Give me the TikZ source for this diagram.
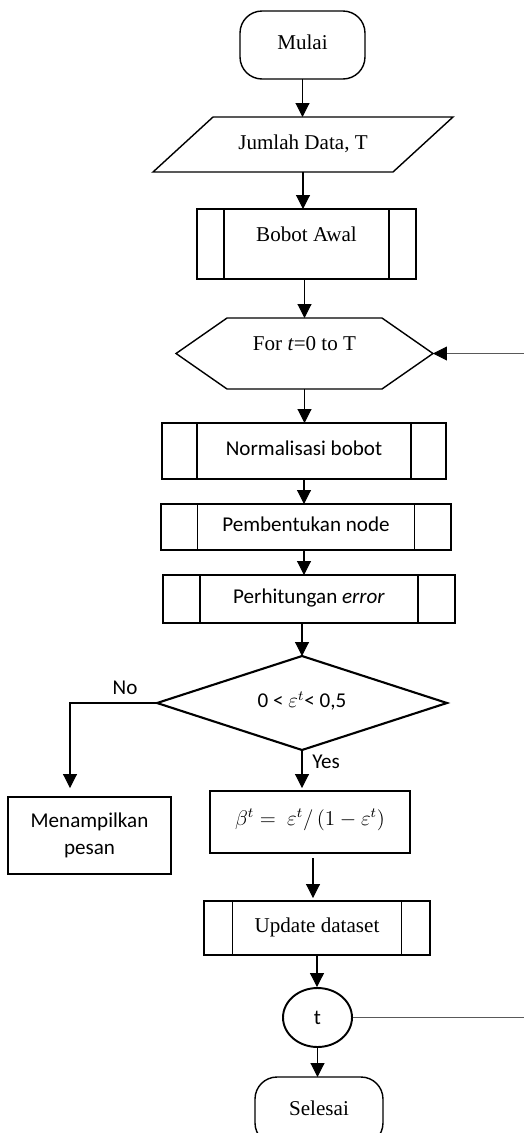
\documentclass[tikz,border=0pt]{standalone}
\usepackage{fontspec}
\setmainfont{Liberation Serif}
\newfontfamily\calibri{Carlito}
\usetikzlibrary{arrows.meta,shapes.geometric}

\tikzset{
  flowbox/.style={line width=0.8pt, inner sep=0pt, outer sep=0pt, text height=8.5pt, text depth=3pt},
  terminal/.style={flowbox, draw, rounded corners=0.44cm, minimum width=2.5cm, minimum height=1.36cm},
  subproc/.style={flowbox, draw, path picture={
    \draw[line width=0.8pt] ([xshift=#1]path picture bounding box.north west) -- ([xshift=#1]path picture bounding box.south west)
      ([xshift=-#1]path picture bounding box.north east) -- ([xshift=-#1]path picture bounding box.south east);}},
  process/.style={draw, line width=1.1pt, inner sep=0pt, outer sep=0pt},
  cal/.style={font=\calibri\fontsize{12}{15}\selectfont},
  arr/.style={line width=0.6pt, -{Triangle[length=0.28cm,width=0.28cm]}},
  returnline/.style={line width=0.5pt, draw=black!65, -{Triangle[length=0.28cm,width=0.28cm,color=black]}}
}

\begin{document}
\begin{tikzpicture}[x=0.02cm, y=-0.02cm, font=\fontsize{12}{15}\selectfont]
    \clip (0,0) rectangle (524,1133);

    \node[terminal] (start) at (302.5,45) {Mulai};
    \node[flowbox, minimum width=6cm, minimum height=1.1cm] (data) at (303,144.5) {Jumlah Data, T};
    \draw[line width=0.8pt] ([xshift=1.2cm]data.north west) -- (data.north east) -- ([xshift=-1.2cm]data.south east) -- (data.south west) -- cycle;
    \node[subproc=0.54cm, minimum width=4.38cm, minimum height=1.4cm, text depth=11.9pt] (bobot) at (306.5,244) {Bobot Awal};
    \node[flowbox, minimum width=5.14cm, minimum height=1.42cm, text depth=11.9pt] (loop) at (304.5,353.5) {For \textit{t}=0 to T};
    \draw[line width=0.8pt] (loop.west) -- ([xshift=1.02cm]loop.north west) -- ([xshift=-1.02cm]loop.north east) -- (loop.east)
      -- ([xshift=-1.02cm]loop.south east) -- ([xshift=1.02cm]loop.south west) -- cycle;
    \node[subproc=0.7cm, cal, minimum width=5.68cm, minimum height=1.12cm] (norm) at (304,451) {Normalisasi bobot};
    \node[subproc=0.73cm, cal, minimum width=5.8cm, minimum height=0.92cm] (tree) at (306,527) {Pembentukan node};
    \node[subproc=0.74cm, cal, minimum width=5.84cm, minimum height=0.96cm] (err) at (309,599) {Perhitungan \textit{error}};
    \node[flowbox, cal, minimum width=5.8cm, minimum height=1.88cm] (cond) at (302,703) {0 < $\varepsilon^t$< 0,5};
    \draw[line width=1.2pt] (cond.north) -- (cond.east) -- (cond.south) -- (cond.west) -- cycle;
    \node[process, cal, align=center, minimum width=3.26cm, minimum height=1.54cm] (msg) at (89.5,835.5) {Menampilkan\\pesan};
    \node[process, minimum width=4cm, minimum height=1.24cm, text height=8.5pt, text depth=5pt] (beta) at (310,822) {$\beta^t =\ \varepsilon^t/\,(1 - \varepsilon^t)$};
    \node[subproc=0.57cm, minimum width=4.52cm, minimum height=1.08cm] (upd) at (317,928) {Update dataset};
    \node[draw, ellipse, cal, line width=1.1pt, minimum width=1.38cm, minimum height=1.18cm, inner sep=0pt] (conn) at (317.5,1017.5) {t};
    \node[terminal, minimum width=2.56cm] (stop) at (319,1111) {Selesai};

    \node[cal] (nolabel) at (125,688) {No};
    \node[cal] (yeslabel) at (326,762) {Yes};

    \coordinate (nobend) at (70,703);
    \coordinate (back) at (540,0);

    \draw[arr] (start.south) -- (start.south |- data.north);
    \draw[arr] (data.south) -- (data.south |- bobot.north);
    \draw[arr] (loop.north |- bobot.south) -- (loop.north);
    \draw[arr] (loop.south) -- (loop.south |- norm.north);
    \draw[arr] (norm.south) -- (norm.south |- tree.north);
    \draw[arr] (norm.south |- tree.south) -- (norm.south |- err.north);
    \draw[arr] (cond.north |- err.south) -- (cond.north);
    \draw[arr, shorten >=0.06cm] (cond.south) -- (cond.south |- beta.north);
    \draw[arr, shorten >=0.18cm] (cond.west) -- (nobend) -- (nobend |- msg.north);
    \draw[arr, shorten <=0.1cm, shorten >=0.06cm] ([xshift=0.06cm]beta.south) -- ([xshift=0.06cm]beta.south |- upd.north);
    \draw[arr] (upd.south) -- (upd.south |- conn.north);
    \draw[arr] (conn.south) -- (conn.south |- stop.north);
    \draw[returnline] (conn.east) -- (conn.east -| back) -- (back |- loop.east) -- (loop.east);
\end{tikzpicture}
\end{document}
